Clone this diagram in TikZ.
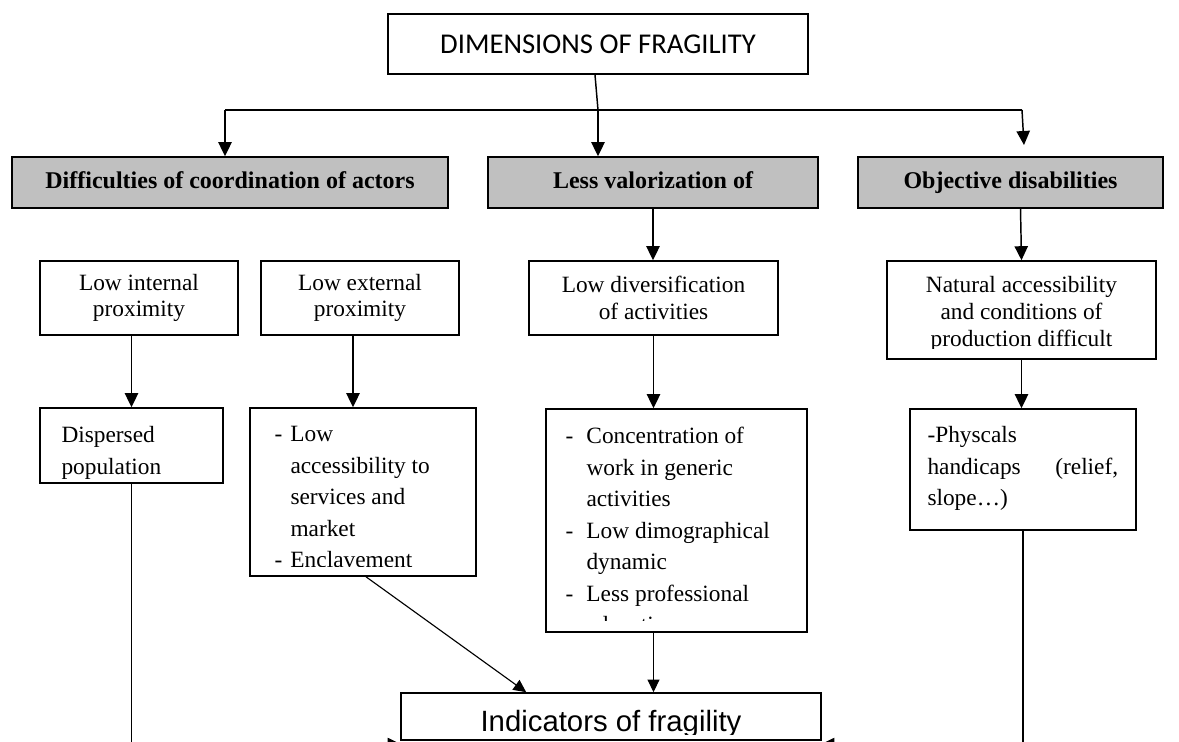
\documentclass[tikz,border=0pt]{standalone}
\usepackage{fontspec}
\setmainfont{Liberation Serif}
\newfontfamily\calibrifont{Carlito}
\newfontfamily\arialfont{Liberation Sans}
\usetikzlibrary{arrows.meta,fit,calc}

\definecolor{boxgray}{RGB}{192,192,192}
\newcommand{\dashitem}{\makebox[12pt][l]{-}}
\newcommand{\dashskip}{\hspace*{12pt}}
\newcommand{\dashitemw}{\makebox[15.75pt][l]{-}}
\newcommand{\dashskipw}{\hspace*{15.75pt}}

\tikzset{every picture/.style={line width=0.75pt}}
\tikzset{
  box/.style={draw, line width=1.2pt, inner sep=0pt},
  graybox/.style={box, fill=boxgray},
  boldtxt/.style={inner sep=0pt, text height=12.5pt, text depth=3.5pt, font=\bfseries\fontsize{18}{22}\selectfont},
  midtxt/.style={inner sep=0pt, align=center, font=\fontsize{17.5}{20}\selectfont},
  txt/.style={inner sep=0pt, align=left, font=\fontsize{17.5}{23.6}\selectfont},
  conn/.style={line width=1.1pt},
  arr/.style={conn, -{Triangle[length=10.5pt,width=10pt]}},
  thinarr/.style={line width=0.85pt, -{Triangle[length=9.5pt,width=9pt]}},
}

\begin{document}
\begin{tikzpicture}[x=0.75pt,y=0.75pt,yscale=-1,xscale=1]
    \useasboundingbox (0,0) rectangle (1179,742);
    \clip (0,0) rectangle (1179,742);

    %Shape: Rectangle
    \node[box, fit={(388,14) (808,74)}] (dim) {};
    % Text Node
    \node[inner sep=0pt, font=\calibrifont\fontsize{21.5}{25}\selectfont] (dimtext) at (dim.center) {DIMENSIONS OF FRAGILITY};

    %Shape: Rectangle
    \node[graybox, fit={(12,157) (448,208)}] (coord) {};
    \node[boldtxt] (coordtext) at (coord.center) {Difficulties of coordination of actors};
    %Shape: Rectangle
    \node[graybox, fit={(488,157) (818,208)}] (valor) {};
    \node[boldtxt] (valortext) at (valor.center) {Less valorization of};
    %Shape: Rectangle
    \node[graybox, fit={(858,157) (1163,208)}] (disab) {};
    \node[boldtxt] (disabtext) at (disab.center) {Objective disabilities};

    %Shape: Rectangle
    \node[box, fit={(40,261) (238,335)}] (internal) {};
    \node[midtxt] (internaltext) at (internal.center) {Low internal\\proximity};
    %Shape: Rectangle
    \node[box, fit={(261,261) (459,335)}] (external) {};
    \node[midtxt] (externaltext) at (external.center) {Low external\\proximity};
    %Shape: Rectangle
    \node[box, fit={(529,261) (778,335)}] (diversif) {};
    \node[midtxt] (diversiftext) at (diversif.center) {Low diversification\\of activities};
    %Shape: Rectangle
    \node[box, fit={(887,261) (1156,359)}] (natural) {};
    % Text Node
    \begin{scope}
      \clip (natural.north west) rectangle ($(natural.south east)+(0,-11)$);
      \node[midtxt, anchor=north] (naturaltext) at ($(natural.north)+(0,16)$) {Natural accessibility\\and conditions of\\production difficult};
    \end{scope}

    %Shape: Rectangle
    \node[box, fit={(40,408) (223,483)}] (dispersed) {};
    % Text Node
    \node[txt, anchor=north west] (disptext) at (61,426) {Dispersed\\population};

    %Shape: Rectangle
    \node[box, fit={(250,408) (476,576)}] (access) {};
    % Text Node
    \begin{scope}
      \clip (access.north west) rectangle ($(access.south east)+(0,-10)$);
      \node[txt, anchor=north west] (accesstext) at (274,426) {\dashitem Low\\ \dashskip accessibility to\\ \dashskip services and\\ \dashskip market\\ \dashitem Enclavement};
    \end{scope}

    %Shape: Rectangle
    \node[box, fit={(546,409) (807,632)}] (concen) {};
    % Text Node
    \begin{scope}
      \clip (concen.north west) rectangle ($(concen.south east)+(0,-12)$);
      \node[txt, anchor=north west] (concentext) at (565,427) {\dashitemw Concentration of\\ \dashskipw work in generic\\ \dashskipw activities\\ \dashitemw Low dimographical\\ \dashskipw dynamic\\ \dashitemw Less professional\\ \dashskipw education};
    \end{scope}

    %Shape: Rectangle
    \node[box, fit={(910,409) (1136,530)}] (physc) {};
    % Text Node
    \node[txt, anchor=north west] (physctext) at (927,426) {-Physcals\\ \makebox[143pt][l]{handicaps\hfill(relief,}\\ slope\dots)};

    %Shape: Rectangle
    \node[box, fit={(401,693) (821,740)}] (indic) {};
    % Text Node
    \begin{scope}
      \clip (indic.north west) rectangle ($(indic.south east)+(0,-6)$);
      \node[inner sep=0pt, anchor=base, font=\arialfont\fontsize{22}{26}\selectfont] (indictext) at (611,731) {Indicators of fragility};
    \end{scope}

    % split points
    \coordinate (split) at (598,110);
    \coordinate (splitL) at (225,110);
    \coordinate (splitR) at (1022,110);
    \coordinate (tipR) at (1024,145);

    %Straight Lines
    \draw[conn] ($(dim.south)+(-3,0)$) -- (split);
    \draw[conn] (splitL) -- (splitR);
    \draw[arr] (splitL) -- (splitL |- coord.north);
    \draw[arr] (split) -- (split |- valor.north);
    \draw[arr] (splitR) -- (tipR);
    %Straight Lines
    \draw[arr] (valor.south) -- (valor.south |- diversif.north);
    \draw[arr] ($(disab.south)+(10,0)$) -- (natural.north);
    %Straight Lines
    \draw[arr] (internal.south -| dispersed.north) -- (dispersed.north);
    \draw[arr] ($(external.south)+(-7,0)$) -- ($(access.north)+(-10,0)$);
    \draw[arr] (diversif.south) -- (diversif.south |- concen.north);
    \draw[arr] (natural.south) -- (natural.south |- physc.north);
    %Straight Lines
    \draw[thinarr] ($(access.south)+(3,0)$) -- ($(indic.north west)+(126,0)$);
    \draw[thinarr] (diversif.south |- concen.south) -- (diversif.south |- indic.north);
    \draw[thinarr] (dispersed.south) |- ($(indic.south west)+(0,3)$);
    \draw[thinarr] (physc.south) |- ($(indic.south east)+(0,3)$);

\end{tikzpicture}
\end{document}
